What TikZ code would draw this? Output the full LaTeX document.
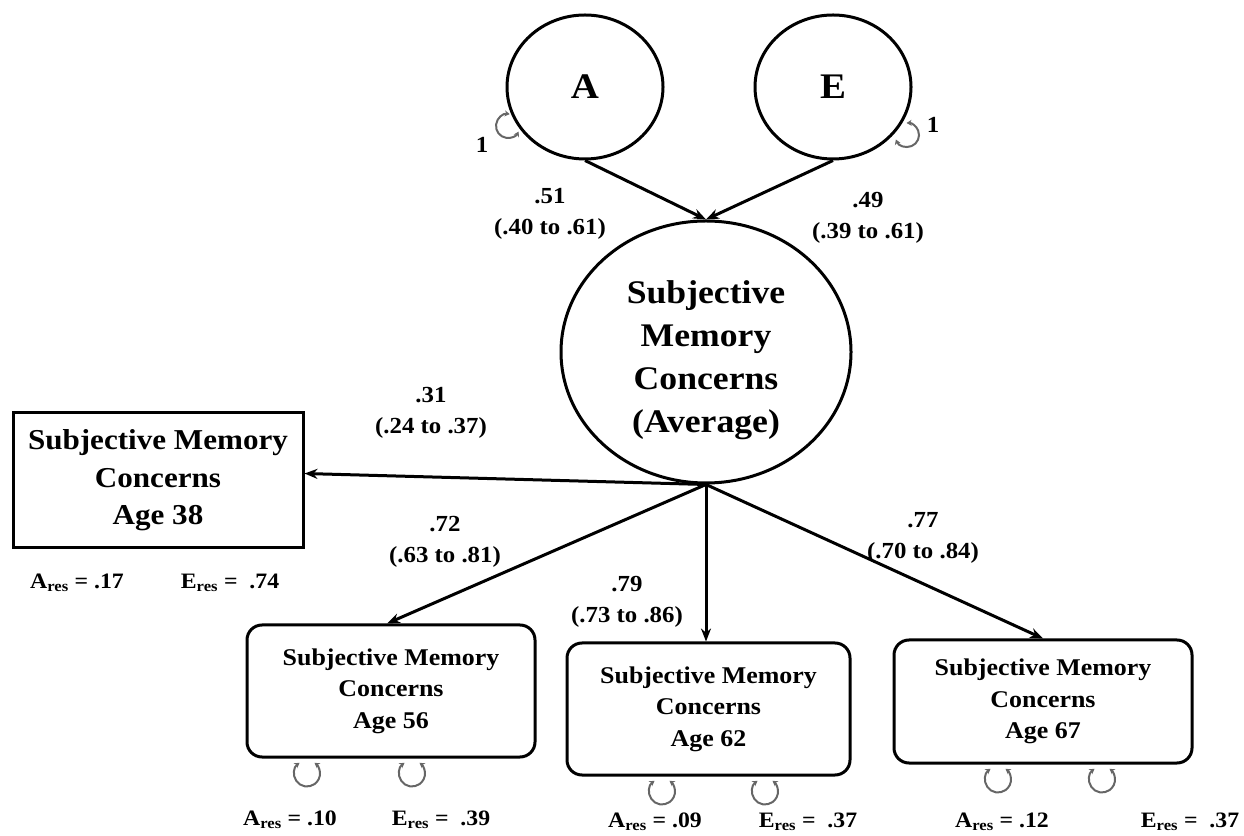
\documentclass[tikz,border=0pt]{standalone}
\usepackage{fontspec}
\setmainfont{Liberation Serif}[FakeStretch=1.08]
\usetikzlibrary{shapes.geometric,arrows.meta,calc}
\begin{document}
\begin{tikzpicture}[x=1pt,y=1pt,
  every node/.style={font=\bfseries, inner sep=0pt},
  latent/.style={draw, ellipse, line width=3pt, align=center},
  obsbox/.style={draw, rectangle, line width=3pt, align=center},
  arr/.style={line width=3pt, -{Stealth[length=13pt,width=10pt]}},
  selfloop/.style={draw=black!60, line width=2pt, {Stealth[length=5pt,width=6pt]}-{Stealth[length=5pt,width=6pt]}},
  coef/.style={align=center, font=\bfseries\fontsize{23}{31}\selectfont},
  res/.style={font=\bfseries\fontsize{22}{26}\selectfont},
  boxtxt/.style={font=\bfseries\fontsize{24}{31.5}\selectfont}
]
\useasboundingbox (0,0) rectangle (1244,835);
% latent variables
\node[latent, minimum width=156pt, minimum height=144pt, font=\bfseries\fontsize{36}{40}\selectfont] (A) at (585,748) {A};
\node[latent, minimum width=156pt, minimum height=144pt, font=\bfseries\fontsize{36}{40}\selectfont] (E) at (833,748) {E};
\node[latent, minimum width=290pt, minimum height=262pt, font=\bfseries\fontsize{33}{43}\selectfont] (S) at (706,483) {\rule{0pt}{40pt}Subjective\\Memory\\Concerns\\(Average)};
% observed
\node[obsbox, minimum width=290pt, minimum height=135pt, font=\bfseries\fontsize{28.8}{37.5}\selectfont] (L) at (158,354.5) {Subjective Memory\\Concerns\\Age 38};
\node[obsbox, boxtxt, rounded corners=15pt, minimum width=288pt, minimum height=132pt] (B1) at (391,144) {Subjective Memory\\Concerns\\Age 56};
\node[obsbox, boxtxt, rounded corners=15pt, minimum width=283pt, minimum height=132pt] (B2) at (708.5,126) {Subjective Memory\\Concerns\\Age 62};
\node[obsbox, boxtxt, rounded corners=15pt, minimum width=298pt, minimum height=123pt] (B3) at (1043,133.5) {Subjective Memory\\Concerns\\Age 67};
\coordinate (hub) at (S.south);
% paths
\draw[arr] (A.south) -- (S.north);
\draw[arr] (E.south) -- (S.north);
\draw[arr] (hub) -- ([yshift=7pt]L.east);
\draw[arr] (hub) -- ([xshift=-4pt]B1.north);
\draw[arr] (hub) -- (hub |- B2.north);
\draw[arr] (hub) -- (B3.north);
% self loops
\draw[selfloop] ($(A.center)+(-77,-39)+(82:12)$) arc[start angle=82, end angle=332, radius=12];
\draw[selfloop] ($(E.center)+(74,-48)+(202:12)$) arc[start angle=202, end angle=452, radius=12];
\draw[selfloop] ($(B1.south)+(-84,-15)+(125:13)$) arc[start angle=125, end angle=415, radius=13];
\draw[selfloop] ($(B1.south)+(21,-15)+(125:13)$) arc[start angle=125, end angle=415, radius=13];
\draw[selfloop] ($(B2.south)+(-46.5,-15)+(125:13)$) arc[start angle=125, end angle=415, radius=13];
\draw[selfloop] ($(B2.south)+(56.5,-15)+(125:13)$) arc[start angle=125, end angle=415, radius=13];
\draw[selfloop] ($(B3.south)+(-45,-15)+(125:13)$) arc[start angle=125, end angle=415, radius=13];
\draw[selfloop] ($(B3.south)+(59,-15)+(125:13)$) arc[start angle=125, end angle=415, radius=13];
% coefficient labels
\node[coef] (c51) at (550,621) {.51\\(.40 to .61)};
\node[coef] (c49) at (868,617.5) {.49\\(.39 to .61)};
\node[coef] (c31) at (431,422.5) {.31\\(.24 to .37)};
\node[coef] (c72) at (445,293) {.72\\(.63 to .81)};
\node[coef] (c79) at (627,233) {.79\\(.73 to .86)};
\node[coef] (c77) at (923,297.5) {.77\\(.70 to .84)};
\node[coef] (oneA) at (482,690) {1};
\node[coef] (oneE) at (933,710) {1};
% residual labels
\node[res] (rLA) at (77,252) {A\textsubscript{res} = .17};
\node[res] (rLE) at (230,252) {E\textsubscript{res} = \ .74};
\node[res] (r1A) at (290,15) {A\textsubscript{res} = .10};
\node[res] (r1E) at (441,15) {E\textsubscript{res} = \ .39};
\node[res] (r2A) at (655,13) {A\textsubscript{res} = .09};
\node[res] (r2E) at (808,13) {E\textsubscript{res} = \ .37};
\node[res] (r3A) at (1002,13) {A\textsubscript{res} = .12};
\node[res] (r3E) at (1190,13) {E\textsubscript{res} = \ .37};
\end{tikzpicture}
\end{document}
